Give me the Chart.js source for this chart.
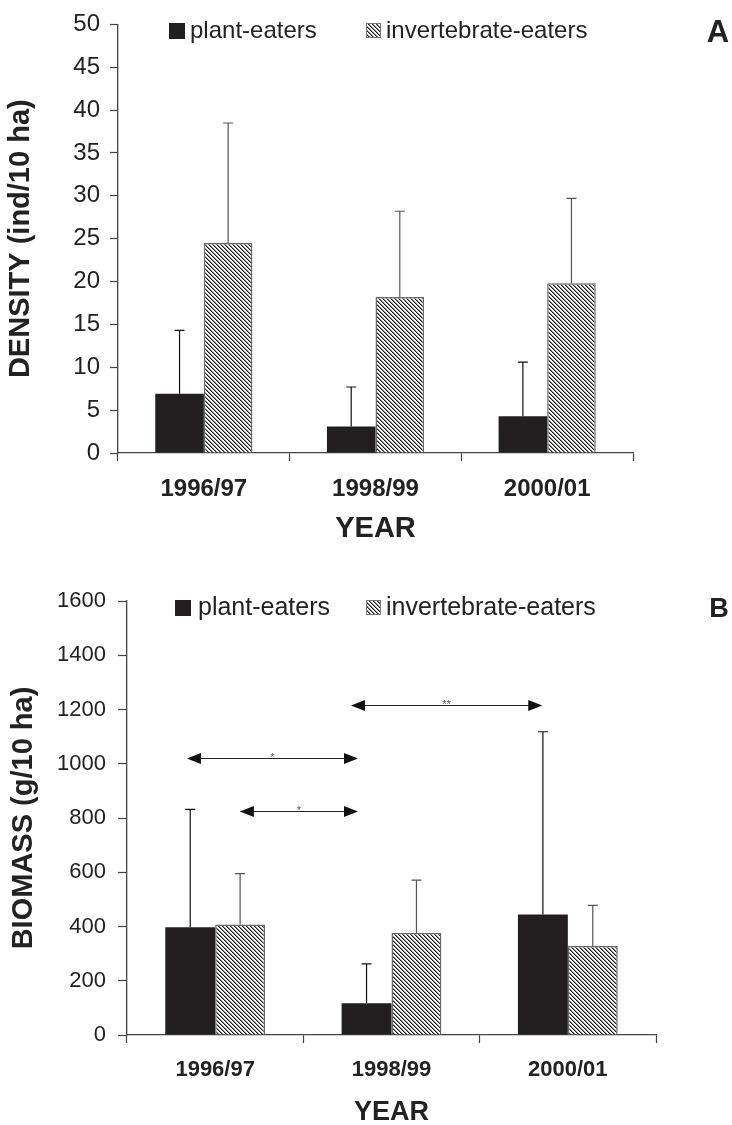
<!DOCTYPE html>
<html><head><meta charset="utf-8">
<script src="https://cdn.jsdelivr.net/npm/chart.js@4.4.0/dist/chart.umd.min.js"></script>
<style>
html,body{margin:0;padding:0;background:#fff;}
#ca{position:absolute;left:0;top:0;}
#cb{position:absolute;left:0;top:560px;}
</style></head><body>
<canvas id="ca" width="732" height="560"></canvas>
<canvas id="cb" width="732" height="565"></canvas>
<script>
// ---- data ----
const years = ['1996/97', '1998/99', '2000/01'];
const seriesNames = ['plant-eaters', 'invertebrate-eaters'];
const densityPlant = [6.9, 3.1, 4.3];
const densityPlantSD = [7.4, 4.6, 6.3];
const densityInvert = [24.5, 18.2, 19.8];
const densityInvertSD = [14.0, 10.0, 9.9];
const biomassPlant = [397, 117, 444];
const biomassPlantSD = [435, 145, 674];
const biomassInvert = [407, 376, 328];
const biomassInvertSD = [188, 195, 150];
const densityTicks = [0, 50, 5];     // min, max, step
const biomassTicks = [0, 1600, 200]; // min, max, step
const sigFrom = [-0.16, 0.14, 0.77];
const sigTo = [0.81, 0.81, 1.855];
const sigLevel = [1022, 827, 1217];
const sigLabel = ['*', '*', '**'];

const FONT = "'Liberation Sans', Arial, Helvetica, sans-serif";
const INK = '#222';
const BLACKBAR = '#231f20';

function makeHatch() {
  const c = document.createElement('canvas');
  c.width = 4; c.height = 4;
  const g = c.getContext('2d');
  g.fillStyle = '#fff'; g.fillRect(0, 0, 4, 4);
  for (let i = 0; i < 4; i++) {
    g.fillStyle = '#1a1a1a'; g.fillRect(i, i, 1, 1);
    g.fillStyle = '#8a8a8a'; g.fillRect((i + 1) % 4, i, 1, 1);
  }
  return document.getElementById('ca').getContext('2d').createPattern(c, 'repeat');
}
const hatch = makeHatch();

const errorBars = {
  id: 'errorBars',
  afterDatasetsDraw(chart) {
    const ctx = chart.ctx, y = chart.scales.y;
    chart.data.datasets.forEach((ds, i) => {
      const meta = chart.getDatasetMeta(i);
      meta.data.forEach((bar, j) => {
        const top = y.getPixelForValue(ds.data[j] + ds.sd[j]);
        ctx.save();
        ctx.strokeStyle = ds.errColor; ctx.lineWidth = 1.2;
        ctx.beginPath();
        ctx.moveTo(bar.x, bar.y); ctx.lineTo(bar.x, top);
        ctx.moveTo(bar.x - 5, top); ctx.lineTo(bar.x + 5, top);
        ctx.stroke();
        ctx.restore();
      });
    });
  }
};

const panelLegend = {
  id: 'panelLegend',
  afterDraw(chart, args, o) {
    const ctx = chart.ctx;
    ctx.save();
    ctx.font = o.size + 'px ' + FONT;
    ctx.textBaseline = 'middle';
    ctx.textAlign = 'left';
    ctx.fillStyle = BLACKBAR;
    ctx.fillRect(o.x1, o.y - 8, 16, 16);
    ctx.fillStyle = INK;
    ctx.fillText(seriesNames[0], o.t1, o.y);
    ctx.fillStyle = hatch;
    ctx.fillRect(o.x2, o.y - 8, 15, 15);
    ctx.strokeStyle = '#777'; ctx.lineWidth = 1;
    ctx.strokeRect(o.x2 + 0.5, o.y - 7.5, 14, 14);
    ctx.fillStyle = INK;
    ctx.fillText(seriesNames[1], o.t2, o.y);
    ctx.font = 'bold ' + o.lsize + 'px ' + FONT;
    ctx.textAlign = 'center';
    ctx.fillText(o.letter, o.lx, o.ly);
    ctx.restore();
  }
};

const sigArrows = {
  id: 'sigArrows',
  afterDatasetsDraw(chart, args, o) {
    if (!o.on) return;
    const ctx = chart.ctx, x = chart.scales.x, y = chart.scales.y;
    ctx.save();
    for (let k = 0; k < sigFrom.length; k++) {
      const x1 = x.getPixelForValue(sigFrom[k]);
      const x2 = x.getPixelForValue(sigTo[k]);
      const yy = Math.round(y.getPixelForValue(sigLevel[k])) + 0.5;
      ctx.strokeStyle = '#222'; ctx.lineWidth = 1.1;
      ctx.beginPath(); ctx.moveTo(x1 + 10, yy); ctx.lineTo(x2 - 10, yy); ctx.stroke();
      ctx.fillStyle = '#111';
      ctx.beginPath(); ctx.moveTo(x1, yy); ctx.lineTo(x1 + 14, yy - 5.5); ctx.lineTo(x1 + 14, yy + 5.5); ctx.closePath(); ctx.fill();
      ctx.beginPath(); ctx.moveTo(x2, yy); ctx.lineTo(x2 - 14, yy - 5.5); ctx.lineTo(x2 - 14, yy + 5.5); ctx.closePath(); ctx.fill();
      ctx.fillStyle = '#555';
      ctx.font = '11px ' + FONT;
      ctx.textAlign = 'center'; ctx.textBaseline = 'alphabetic';
      ctx.fillText(sigLabel[k], (x1 + x2) / 2, yy + 2);
    }
    ctx.restore();
  }
};

function makeChart(id, cfg) {
  return new Chart(document.getElementById(id), {
    type: 'bar',
    data: {
      labels: years,
      datasets: [
        { label: seriesNames[0], data: cfg.plant, sd: cfg.plantSD, errColor: '#111',
          backgroundColor: BLACKBAR, borderWidth: 0,
          barPercentage: 1, categoryPercentage: 0.566 },
        { label: seriesNames[1], data: cfg.invert, sd: cfg.invertSD, errColor: '#555',
          backgroundColor: hatch, borderColor: '#6a6a6a', borderWidth: 1.5,
          barPercentage: 1, categoryPercentage: 0.566 }
      ]
    },
    plugins: [errorBars, panelLegend, sigArrows],
    options: {
      responsive: false,
      animation: false,
      devicePixelRatio: 1,
      layout: { padding: { left: 0, top: cfg.top, right: cfg.right, bottom: 0 } },
      plugins: {
        legend: { display: false },
        tooltip: { enabled: false },
        panelLegend: cfg.legend,
        sigArrows: { on: cfg.arrows }
      },
      scales: {
        x: {
          offset: true,
          afterFit(s) { s.height = cfg.xHeight; },
          grid: { display: true, drawOnChartArea: false, offset: true, tickLength: 8, color: '#444', tickWidth: 1.2 },
          border: { display: true, color: '#444', width: 1.3 },
          ticks: { color: INK, padding: 14, font: { family: FONT, size: cfg.xFont, weight: 'bold' } },
          title: { display: true, text: 'YEAR', color: INK,
                   font: { family: FONT, size: cfg.xtFont, weight: 'bold' },
                   padding: { top: 0, bottom: cfg.xtPad } }
        },
        y: {
          min: cfg.ticks[0], max: cfg.ticks[1],
          afterFit(s) { s.width = cfg.yWidth; },
          grid: { display: true, drawOnChartArea: false, tickLength: cfg.tickLen, color: '#444', tickWidth: 1.2 },
          border: { display: true, color: '#444', width: 1.3 },
          ticks: { stepSize: cfg.ticks[2], color: INK, padding: cfg.yPad,
                   font: { family: FONT, size: cfg.yFont },
                   callback: v => String(v) },
          title: { display: true, text: cfg.yTitle, color: INK,
                   font: { family: FONT, size: cfg.ytFont, weight: 'bold' },
                   padding: { top: cfg.ytPad, bottom: 0 } }
        }
      }
    }
  });
}

makeChart('ca', {
  plant: densityPlant, plantSD: densityPlantSD,
  invert: densityInvert, invertSD: densityInvertSD,
  ticks: densityTicks, top: 15, right: 99, xHeight: 107, yWidth: 118,
  xFont: 24, xtFont: 29, xtPad: 13.6, yFont: 24, yPad: 10, tickLen: 8,
  yTitle: 'DENSITY (ind/10 ha)', ytFont: 29, ytPad: 4,
  arrows: false,
  legend: { x1: 169, t1: 190, x2: 366, t2: 386, y: 31, size: 24, letter: 'A', lx: 718, ly: 33, lsize: 31 }
});

makeChart('cb', {
  plant: biomassPlant, plantSD: biomassPlantSD,
  invert: biomassInvert, invertSD: biomassInvertSD,
  ticks: biomassTicks, top: 41, right: 76, xHeight: 90, yWidth: 127,
  xFont: 22, xtFont: 27, xtPad: -4, yFont: 22, yPad: 12, tickLen: 9,
  yTitle: 'BIOMASS (g/10 ha)', ytFont: 29, ytPad: 7,
  arrows: true,
  legend: { x1: 175, t1: 198, x2: 366, t2: 386, y: 48, size: 25, letter: 'B', lx: 719, ly: 50, lsize: 27 }
});
</script>
</body></html>
